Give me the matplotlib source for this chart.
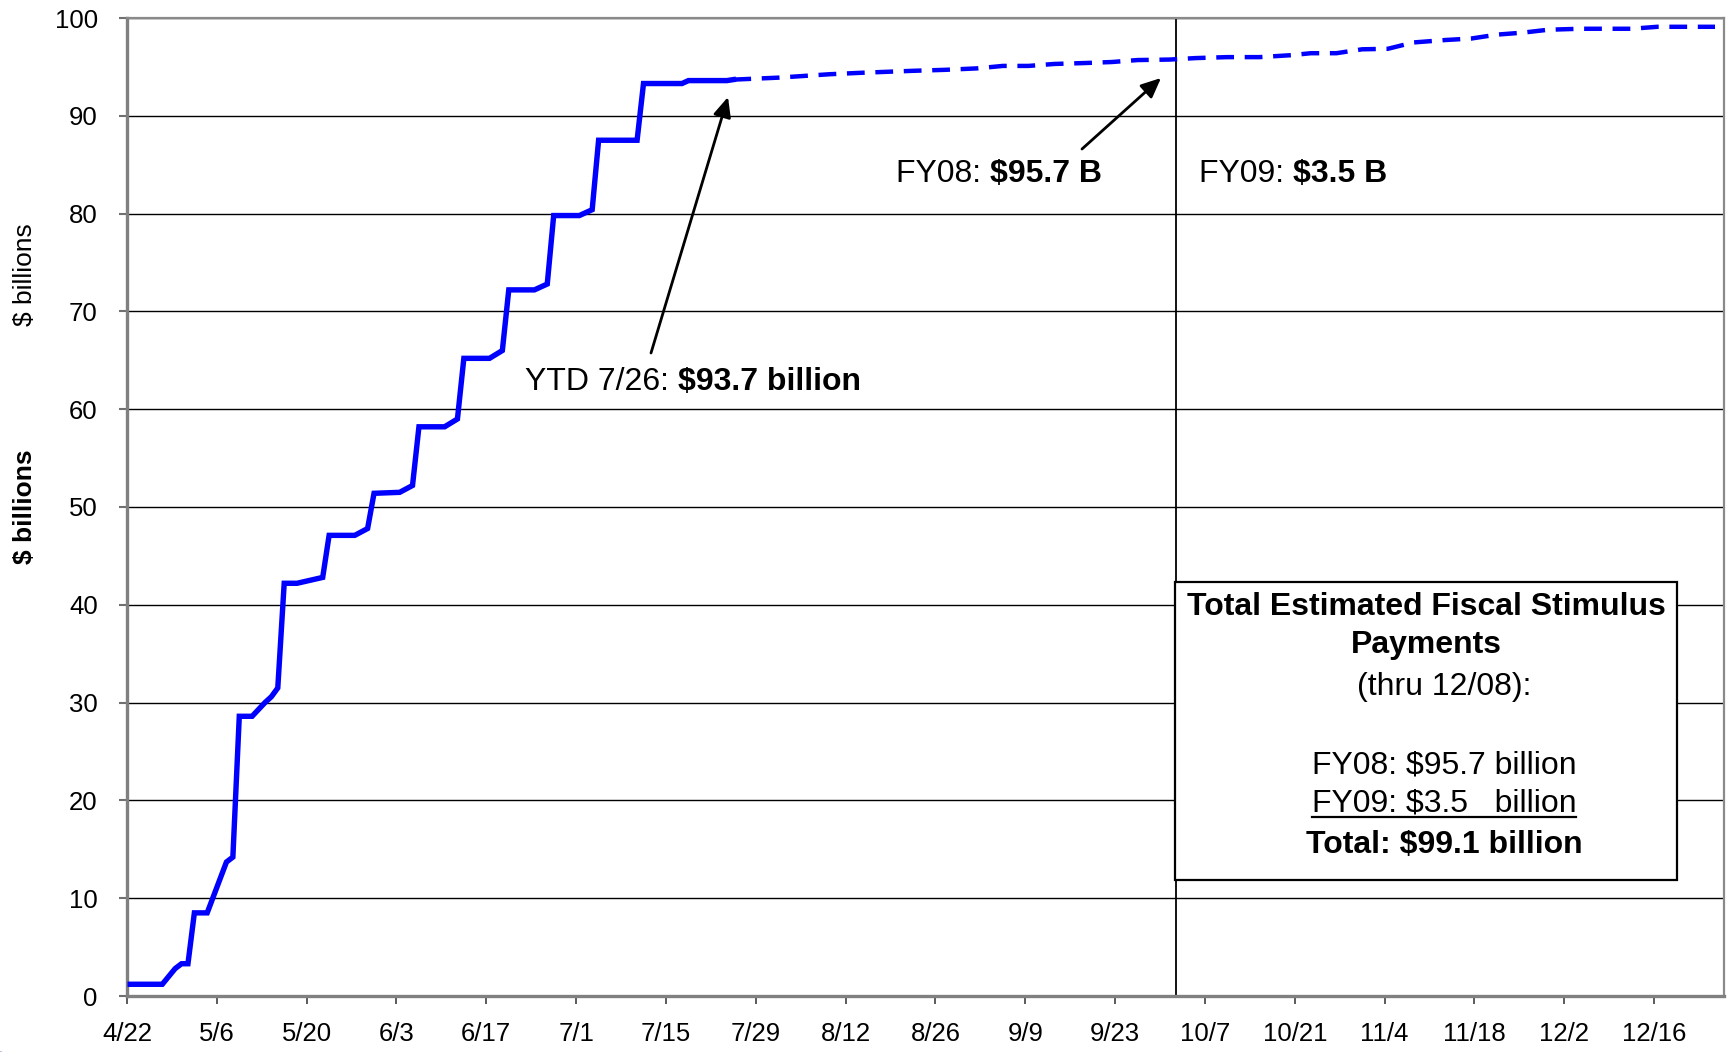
import matplotlib
matplotlib.use("Agg")
import matplotlib.pyplot as plt
import matplotlib.dates as mdates
from matplotlib.patches import Rectangle, Circle
from matplotlib.lines import Line2D
import pandas as pd

plt.rcParams["font.family"] = ["Liberation Sans", "DejaVu Sans"]

# cumulative stimulus payments, $ billions (2008)
actual_dates = ["4/22", "4/27", "4/29", "4/30", "5/1", "5/2", "5/4", "5/7", "5/8", "5/9",
                "5/11", "5/13", "5/14", "5/15", "5/16", "5/18", "5/20", "5/22", "5/23", "5/27",
                "5/29", "5/30", "6/3", "6/5", "6/6", "6/10", "6/12", "6/13", "6/17", "6/19",
                "6/20", "6/24", "6/26", "6/27", "7/1", "7/3", "7/4", "7/10", "7/11", "7/17",
                "7/18", "7/24", "7/25"]
actual_values = [1.2, 1.2, 2.8, 3.3, 3.3, 8.5, 8.5, 13.7, 14.2, 28.6,
                 28.6, 30.0, 30.6, 31.5, 42.2, 42.2, 42.5, 42.8, 47.1, 47.1,
                 47.8, 51.4, 51.5, 52.2, 58.2, 58.2, 59.0, 65.2, 65.2, 66.0,
                 72.2, 72.2, 72.8, 79.8, 79.8, 80.4, 87.5, 87.5, 93.3, 93.3,
                 93.6, 93.6, 93.7]

# projected remainder
proj_dates = ["7/25", "8/1", "8/9", "8/14", "8/22", "8/27", "9/1", "9/5", "9/9", "9/13",
              "9/18", "9/22", "9/26", "10/1", "10/5", "10/10", "10/15", "10/20", "10/23", "10/27",
              "10/31", "11/4", "11/8", "11/13", "11/17", "11/21", "11/25", "11/29", "12/4", "12/12",
              "12/16", "12/25"]
proj_values = [93.7, 93.9, 94.25, 94.4, 94.6, 94.7, 94.85, 95.1, 95.1, 95.3,
               95.4, 95.5, 95.7, 95.75, 95.9, 96.0, 96.0, 96.2, 96.4, 96.4,
               96.8, 96.85, 97.5, 97.75, 97.9, 98.3, 98.5, 98.8, 98.9, 98.9,
               99.1, 99.1]

tick_labels = ["4/22", "5/6", "5/20", "6/3", "6/17", "7/1", "7/15", "7/29", "8/12",
               "8/26", "9/9", "9/23", "10/7", "10/21", "11/4", "11/18", "12/2", "12/16"]
fy_split = "10/2"

box_lines = ["Total Estimated Fiscal Stimulus", "Payments", "(thru 12/08):",
             "FY08: $95.7 billion", "FY09: $3.5   billion", "Total: $99.1 billion"]


def to_num(labels, noon=False):
    d = pd.to_datetime(["2008/" + s for s in labels], format="%Y/%m/%d")
    if noon:
        d = d + pd.Timedelta(hours=12)
    return mdates.date2num(d)


W, H = 1729, 1052
def fx(x):
    return x / W
def fy(y):
    return 1 - y / H


fig = plt.figure(figsize=(W / 100, H / 100), dpi=100)
ax = fig.add_axes([fx(127), fy(996), fx(1724) - fx(127), fy(18) - fy(996)])

ax.plot(to_num(actual_dates, True), actual_values, color="#0000ff", lw=3.9,
        solid_joinstyle="miter", zorder=3)
ax.plot(to_num(proj_dates, True), proj_values, color="#0000ff", lw=3.2,
        dashes=(4.0, 2.4), zorder=3)

x0 = to_num(["4/22"])[0]
ax.set_xlim(x0, x0 + 248.9)
ax.set_ylim(0, 100)
ax.axvline(to_num([fy_split], True)[0], color="black", lw=1.3, zorder=2)

ax.set_xticks(to_num(tick_labels))
ax.set_xticklabels(tick_labels)
ax.set_yticks(range(0, 101, 10))
ax.yaxis.grid(True, color="black", lw=1.0)
ax.set_axisbelow(True)
ax.tick_params(axis="y", length=6, width=1.5, color="#707070", pad=15, labelsize=18.5)
ax.tick_params(axis="x", length=6, width=1.2, color="#404040", pad=13, labelsize=18.5)
for side in ["left", "bottom"]:
    ax.spines[side].set_color("#808080")
    ax.spines[side].set_linewidth(2.4)
for side in ["top", "right"]:
    ax.spines[side].set_color("#8a8a8a")
    ax.spines[side].set_linewidth(1.6)

# axis titles
fig.text(fx(25), fy(275), "$ billions", rotation=90, ha="center", va="center", size=19)
fig.text(fx(25), fy(507), "$ billions", rotation=90, ha="center", va="center",
         size=19, weight="bold")

# annotations with mixed weight
def mixed(x, y, plain, bold):
    t1 = fig.text(fx(x), fy(y), plain, size=23, va="baseline")
    ax.annotate(bold, xy=(1, 0), xycoords=t1, va="bottom", ha="left",
                size=23, weight="bold")

mixed(525, 390, "YTD 7/26: ", "$93.7 billion")
mixed(896, 182, "FY08: ", "$95.7 B")
mixed(1199, 182, "FY09: ", "$3.5 B")

arrow = dict(arrowstyle="-|>,head_length=0.8,head_width=0.36", color="black",
             lw=2, mutation_scale=15, shrinkA=0, shrinkB=0)
ax.annotate("", xy=(fx(728), fy(97)), xycoords="figure fraction",
            xytext=(fx(651), fy(353)), textcoords="figure fraction", arrowprops=arrow)
ax.annotate("", xy=(fx(1161), fy(78)), xycoords="figure fraction",
            xytext=(fx(1082), fy(149)), textcoords="figure fraction", arrowprops=arrow)

# summary box
ax.add_patch(Rectangle((fx(1175), fy(880)), fx(1677) - fx(1175), fy(582) - fy(880),
                       transform=fig.transFigure, facecolor="white", edgecolor="black",
                       lw=1.6, zorder=5))
baselines = [615, 653, 695, 773, 812, 853]
centers = [1426, 1426, 1444, 1444, 1444, 1444]
weights = ["bold", "bold", "normal", "normal", "normal", "bold"]
box_texts = []
for s, b, c, w in zip(box_lines, baselines, centers, weights):
    box_texts.append(fig.text(fx(c), fy(b), s, ha="center", va="baseline",
                              size=23, weight=w, zorder=6))

# underline the FY09 line
fig.canvas.draw()
bb = box_texts[4].get_window_extent(fig.canvas.get_renderer())
fig.add_artist(Line2D([bb.x0 / W, bb.x1 / W], [fy(817), fy(817)], color="black",
                      lw=1.6, transform=fig.transFigure))

# seal in the corner
fig.add_artist(Circle((fx(-12), fy(1080)), 45 / W, transform=fig.transFigure,
                      facecolor="#c9d6e8", edgecolor="#3a5fa0", lw=3))

fig.savefig("out.png", dpi=100)
